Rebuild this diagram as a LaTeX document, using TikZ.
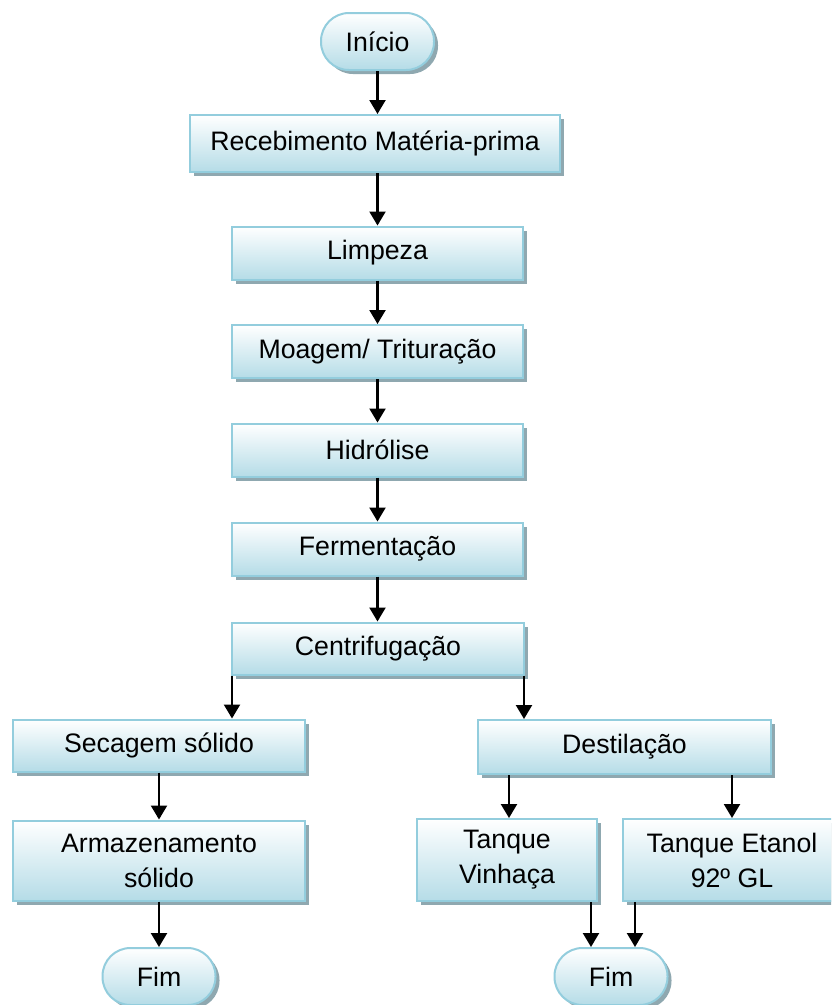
\documentclass[tikz,border=0pt]{standalone}
\usepackage{fontspec}
\setmainfont{Liberation Sans}
\usetikzlibrary{shadows,arrows.meta,calc}
\definecolor{boxborder}{HTML}{93CDDD}
\definecolor{boxfill}{HTML}{B5DCE7}
\definecolor{boxshadow}{HTML}{8FA8B0}
\tikzset{
  proc/.style={draw=boxborder, line width=2pt, top color=white, bottom color=boxfill,
    drop shadow={shadow xshift=4pt, shadow yshift=-4pt, fill=boxshadow, opacity=1},
    font=\fontsize{26.7}{35}\selectfont, align=center, inner sep=0pt},
  term/.style={proc, rounded corners=28pt, minimum width=113pt, minimum height=57pt},
  flow/.style={line width=2.2pt, -{Triangle[width=16pt,length=14pt]}},
}
\begin{document}
\begin{tikzpicture}[x=1pt,y=1pt]
\clip (0,0) rectangle (831,-1005);
\fill[white] (0,0) rectangle (831,-1005);
\node[term] (ini) at (377.5,-41.5) {Início};
\node[proc, minimum width=370pt, minimum height=57pt] (rec) at (375,-143.5) {Recebimento Matéria-prima};
\node[proc, minimum width=291pt, minimum height=53pt] (limp) at (377.5,-253) {Limpeza};
\node[proc, minimum width=291pt, minimum height=53pt] (moag) at (377.5,-351.5) {Moagem/ Trituração};
\node[proc, minimum width=291pt, minimum height=53pt] (hidr) at (377.5,-450) {Hidrólise};
\node[proc, minimum width=291pt, minimum height=53pt] (ferm) at (377.5,-549) {Fermentação};
\node[proc, minimum width=292pt, minimum height=52pt] (cent) at (378,-648.5) {Centrifugação};
\node[proc, minimum width=292pt, minimum height=52pt] (sec) at (159,-745.5) {Secagem sólido};
\node[proc, minimum width=292pt, minimum height=80pt] (arm) at (159,-860.5) {Armazenamento\\sólido};
\node[term] (fim1) at (159,-976.5) {Fim};
\node[proc, minimum width=293pt, minimum height=54pt] (dest) at (624.5,-747) {Destilação};
\node[proc, minimum width=180pt, minimum height=82pt] (vin) at (507,-860) {Tanque\\Vinhaça};
\node[proc, minimum width=218pt, minimum height=82pt] (eta) at (732,-860) {Tanque Etanol\\92º GL};
\node[term] (fim2) at (611,-976.5) {Fim};

\coordinate (cl) at ($(cent.south west)+(1,0)$);
\coordinate (cr) at ($(cent.south east)+(-1,0)$);
\coordinate (dl) at ($(vin.north)+(2,0)$);
\coordinate (vb) at ($(vin.south east)+(-7,0)$);
\coordinate (eb) at ($(eta.south west)+(13,0)$);

\draw[flow] (ini.south) -- (ini.south |- rec.north);
\draw[flow] (ini.south |- rec.south) -- (ini.south |- limp.north);
\draw[flow] (limp) -- (moag);
\draw[flow] (moag) -- (hidr);
\draw[flow] (hidr) -- (ferm);
\draw[flow] (ferm.south) -- (ferm.south |- cent.north);
\draw[flow] (cl) -- (cl |- sec.north);
\draw[flow] (cr) -- (cr |- dest.north);
\draw[flow] (sec) -- (arm);
\draw[flow] (arm) -- (fim1);
\draw[flow] (dl |- dest.south) -- (dl);
\draw[flow] (eta.north |- dest.south) -- (eta.north);
\draw[flow] (vb) -- (vb |- fim2.north);
\draw[flow] (eb) -- (eb |- fim2.north);
\end{tikzpicture}
\end{document}
